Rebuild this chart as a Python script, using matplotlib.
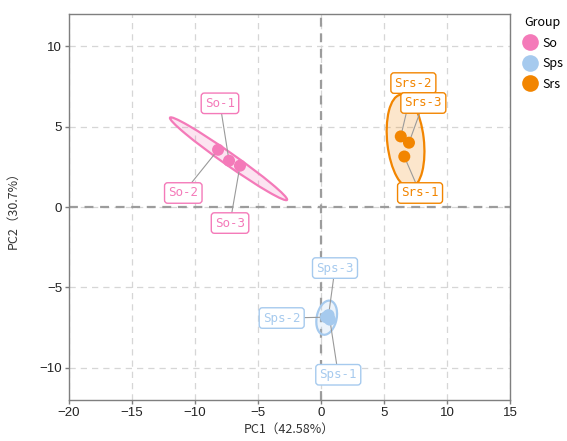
import matplotlib
matplotlib.use("Agg")
import matplotlib.pyplot as plt
from matplotlib.patches import Ellipse
from matplotlib.lines import Line2D

plt.rcParams['font.family'] = ['Liberation Sans', 'Noto Sans CJK SC', 'DejaVu Sans']

groups = ['So', 'Sps', 'Srs']
colors = {'So': '#F47AB9', 'Sps': '#A6CAEE', 'Srs': '#F28500'}

# sample scores on PC1 / PC2
sample_names = ['So-1', 'So-2', 'So-3', 'Sps-1', 'Sps-2', 'Sps-3', 'Srs-1', 'Srs-2', 'Srs-3']
sample_group = ['So', 'So', 'So', 'Sps', 'Sps', 'Sps', 'Srs', 'Srs', 'Srs']
pc1 = [-7.30, -8.17, -6.43, 0.70, 0.40, 0.60, 6.61, 6.33, 6.98]
pc2 = [2.89, 3.57, 2.58, -7.00, -6.85, -6.72, 3.15, 4.40, 4.01]

# where the repelled labels ended up
label_x = [-8.02, -10.93, -7.22, 1.37, -3.12, 1.11, 7.86, 7.33, 8.12]
label_y = [6.46, 0.88, -0.99, -10.43, -6.90, -3.79, 0.88, 7.72, 6.48]

# confidence ellipses: centre, full width, full height, angle (deg)
ell_cx = [-7.34, 0.45, 6.71]
ell_cy = [3.01, -6.88, 4.10]
ell_w = [10.6, 2.2, 5.84]
ell_h = [0.8, 1.55, 2.9]
ell_ang = [-28.8, 69.0, 98.6]

xticks = [-20, -15, -10, -5, 0, 5, 10, 15]
yticks = [-10, -5, 0, 5, 10]

mono = ['DejaVu Sans Mono', 'Noto Sans CJK SC']
cjk = ['Noto Sans CJK SC', 'DejaVu Sans']

fig = plt.figure(figsize=(5.67, 4.41), dpi=100)
ax = fig.add_axes([0.1217, 0.093, 0.7778, 0.8746])

for i, g in enumerate(groups):
    c = colors[g]
    ax.add_patch(Ellipse((ell_cx[i], ell_cy[i]), ell_w[i], ell_h[i], angle=ell_ang[i],
                         facecolor=c, alpha=0.2, edgecolor='none', zorder=2))
    ax.add_patch(Ellipse((ell_cx[i], ell_cy[i]), ell_w[i], ell_h[i], angle=ell_ang[i],
                         facecolor='none', edgecolor=c, lw=1.6, zorder=3))

for i, name in enumerate(sample_names):
    c = colors[sample_group[i]]
    ax.plot([label_x[i], pc1[i]], [label_y[i], pc2[i]], color='#9a9a9a', lw=0.8, zorder=4)
    ax.text(label_x[i], label_y[i], name, color=c, fontsize=9, ha='center', va='center',
            zorder=6, family=mono,
            bbox=dict(boxstyle='round,pad=0.3,rounding_size=0.25', fc='white', ec=c, lw=1))

for g in groups:
    xs = [pc1[i] for i in range(len(pc1)) if sample_group[i] == g]
    ys = [pc2[i] for i in range(len(pc2)) if sample_group[i] == g]
    ax.scatter(xs, ys, s=75, color=colors[g], edgecolors='none', zorder=5)

ax.axvline(0, color='#9c9c9c', ls=(0, (4, 3)), lw=1.6, zorder=1)
ax.axhline(0, color='#9c9c9c', ls=(0, (4, 3)), lw=1.6, zorder=1)

ax.set_xlim(-20, 15)
ax.set_ylim(-12, 12)
ax.set_xticks(xticks)
ax.set_yticks(yticks)
ax.grid(True, color='#d6d6d6', ls=(0, (5, 4)), lw=0.9, zorder=0)
ax.set_axisbelow(True)
for sp in ax.spines.values():
    sp.set_color('#7f7f7f')
    sp.set_linewidth(1.0)
ax.tick_params(direction='out', length=3, width=1, color='#7f7f7f', labelsize=9.5,
               labelcolor='#222222', pad=2)

ax.set_xlabel('PC1（42.58%）', fontsize=9, color='#333333', family=cjk, labelpad=3)
ax.set_ylabel('PC2（30.7%）', fontsize=9, color='#333333', family=cjk, labelpad=14)

handles = [Line2D([], [], marker='o', ls='none', markersize=12, color=colors[g],
                  markeredgecolor='none') for g in groups]
leg = fig.legend(handles, groups, title='Group', loc='upper left',
                 bbox_to_anchor=(0.915, 0.975), frameon=False,
                 handletextpad=0.5, labelspacing=0.6,
                 borderaxespad=0, handlelength=1.0,
                 prop={'family': cjk, 'size': 9})
leg.get_title().set_fontfamily(cjk)
leg.get_title().set_fontsize(9)
leg._legend_box.align = 'left'

fig.savefig('out.png', dpi=100)
